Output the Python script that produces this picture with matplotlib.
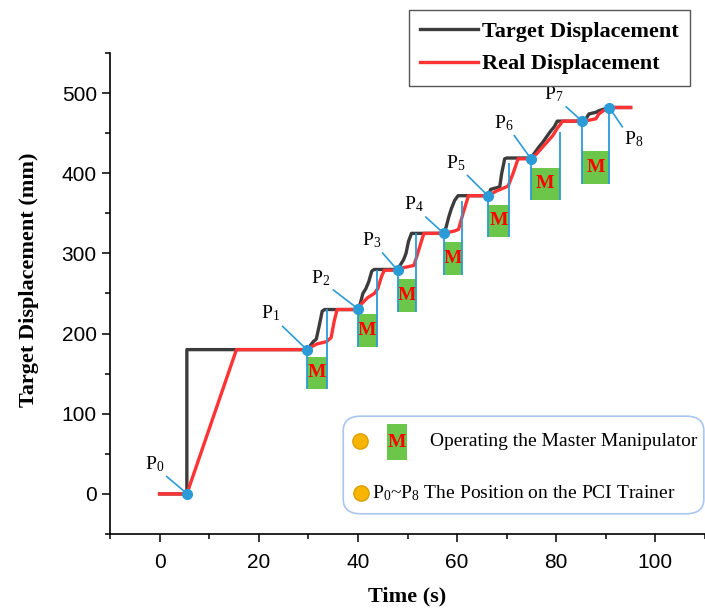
import numpy as np
import matplotlib.pyplot as plt
from matplotlib.patches import Rectangle, FancyBboxPatch
from matplotlib.ticker import MultipleLocator

plt.rcParams['mathtext.default'] = 'regular'

SERIF = 'Liberation Serif'
SANS = 'Liberation Sans'

# target displacement (black)
target_t = [0, 5.5, 5.5, 29.8, 30.4, 31.0, 31.6, 32.2, 32.8, 33.3,
            40.0, 40.5, 41.0, 41.6, 42.2, 42.8, 43.3,
            48.0, 48.6, 49.2, 49.7, 50.2, 50.8,
            57.3, 57.8, 58.3, 58.8, 59.5, 60.2,
            66.2, 66.8, 68.6, 69.0, 69.6, 70.0,
            74.9, 75.6, 76.4, 77.2, 78.0, 78.8, 79.6, 80.2,
            85.2, 86.0, 86.6, 88.0, 88.6, 89.6, 90.7, 95.0]
target_y = [0, 0, 180, 180, 185, 190, 193, 210, 228, 230,
            230, 238, 250, 256, 265, 278, 280,
            280, 286, 292, 300, 315, 325,
            325, 333, 345, 355, 366, 372,
            372, 380, 383, 400, 418, 419,
            419, 425, 432, 438, 445, 452, 458, 465,
            465, 468, 474, 476, 478, 480, 482, 482]

# real displacement (red)
real_t = [0, 5.5, 15.5, 29.7, 30.5, 31.7, 33.7, 34.6, 35.2, 35.8,
          40.0, 40.7, 42.0, 43.3, 44.0, 44.7, 45.3,
          48.0, 49.0, 51.3, 52.3, 53.3,
          57.3, 59.5, 60.3, 61.3, 62.3,
          66.2, 68.0, 70.3, 71.3, 72.3,
          74.9, 76.0, 77.3, 78.3, 79.3, 80.2, 81.3,
          85.0, 86.5, 88.0, 88.6, 89.5, 90.7, 95.0]
real_y = [0, 0, 180, 180, 183, 187, 190, 195, 215, 230,
          230, 237, 245, 250, 256, 270, 279,
          279, 282, 285, 305, 325,
          325, 328, 330, 352, 372,
          372, 378, 384, 400, 418,
          418, 424, 433, 440, 447, 456, 465,
          465, 466, 468, 474, 478, 482, 482]

# positions P0..P8 on the trainer
p_t = [5.6, 29.7, 40.0, 48.0, 57.3, 66.2, 74.9, 85.2, 90.7]
p_y = [0, 180, 231, 279, 325, 372, 418, 465, 482]

# master manipulator phases ("M" boxes)
m_end = [33.8, 43.8, 51.7, 60.9, 70.5, 80.7, 90.7]
m_top = [171, 225, 268, 314, 361, 407, 428]
m_bot = [131, 183, 227, 273, 321, 367, 387]
m_line_top = [231, 279, 325, 366, 413, 452, 482]

# label offsets (pixels) for P labels
lab_dx = [-33, -36, -37, -26, -30, -32, -27, -28, 24]
lab_dy = [30, 36, 31, 30, 29, 33, 36, 27, -32]

blue = '#2b9bd8'
green = '#6cc64a'

fig = plt.figure(figsize=(7.05, 6.1), dpi=100)
ax = fig.add_axes([110 / 705, 76 / 610, 595 / 705, 481 / 610])

l1, = ax.plot(target_t, target_y, color='#3c3c3c', lw=2.4, zorder=2,
              label='Target Displacement')
l2, = ax.plot(real_t, real_y, color='#ff3333', lw=2.4, zorder=2.5,
              label='Real Displacement')

for i in range(7):
    t0 = p_t[i + 1]
    t1 = m_end[i]
    ax.add_patch(Rectangle((t0, m_bot[i]), t1 - t0, m_top[i] - m_bot[i],
                           facecolor=green, edgecolor='none', zorder=1.5))
    ax.text((t0 + t1) / 2, (m_top[i] + m_bot[i]) / 2, 'M', color='red',
            family=SERIF, weight='bold', fontsize=14, ha='center', va='center',
            zorder=3)
    ax.vlines(t0, m_bot[i], p_y[i + 1], color=blue, lw=1.3, zorder=3)
    ax.vlines(t1, m_bot[i], m_line_top[i], color=blue, lw=1.3, zorder=3)

ax.plot(p_t, p_y, 'o', color=blue, ms=7, zorder=4)

for i in range(9):
    rp = (0.1, 0.9) if lab_dx[i] > 0 else (0.85, 0.1)
    ax.annotate('P$_{%d}$' % i, xy=(p_t[i], p_y[i]),
                xytext=(lab_dx[i], lab_dy[i]), textcoords='offset pixels',
                ha='center', va='center', family=SERIF, fontsize=14,
                arrowprops=dict(arrowstyle='-', color=blue, lw=1.2,
                                shrinkA=0, shrinkB=0, relpos=rp),
                zorder=4)

ax.set_xlim(-10, 110)
ax.set_ylim(-50, 550)
ax.xaxis.set_major_locator(MultipleLocator(20))
ax.xaxis.set_minor_locator(MultipleLocator(10))
ax.yaxis.set_major_locator(MultipleLocator(100))
ax.yaxis.set_minor_locator(MultipleLocator(50))
ax.set_xticks([0, 20, 40, 60, 80, 100])
ax.set_yticks([0, 100, 200, 300, 400, 500])
ax.tick_params(which='major', direction='out', length=6, width=1.1,
               labelsize=15)
ax.tick_params(which='minor', direction='out', length=3.5, width=1.1)
ax.tick_params(axis='x', pad=8)
for lab in ax.get_xticklabels() + ax.get_yticklabels():
    lab.set_family(SANS)
for s in ['top', 'right']:
    ax.spines[s].set_visible(False)
for s in ['left', 'bottom']:
    ax.spines[s].set_linewidth(1.2)

ax.set_xlabel('Time (s)', family=SERIF, weight='bold', fontsize=16)
ax.set_ylabel('Target Displacement (mm)', family=SERIF, weight='bold',
              fontsize=16)
ax.xaxis.set_label_coords(0.5, -0.11)
ax.yaxis.set_label_coords(-0.12, 0.528)

fig.legend([l1, l2], ['Target Displacement', 'Real Displacement'],
           loc='upper right', bbox_to_anchor=(690 / 705, 1 - 10 / 610),
           borderaxespad=0, borderpad=0.5, handlelength=2.6,
           handletextpad=0.2, labelspacing=0.55, fancybox=False,
           edgecolor='#555555', framealpha=1,
           prop=dict(family=SERIF, weight='bold', size=16))

# explanation box at lower right
box = FancyBboxPatch((0.392, 0.042), 0.606, 0.203,
                     boxstyle='round,pad=0,rounding_size=0.03',
                     transform=ax.transAxes, facecolor='white',
                     edgecolor='#a9c6ee', lw=1.2, zorder=5, clip_on=False)
ax.add_patch(box)
for yy, xx in [(0.193, 0.42), (0.085, 0.422)]:
    ax.plot([xx], [yy], 'o', ms=11, mfc='#f7b500', mec='#d9a000',
            transform=ax.transAxes, zorder=6, clip_on=False)
ax.add_patch(Rectangle((0.4655, 0.1538), 0.0335, 0.075, transform=ax.transAxes,
                       facecolor=green, edgecolor='none', zorder=6))
ax.text(0.482, 0.191, 'M', color='red', family=SERIF, weight='bold',
        fontsize=14, ha='center', va='center', transform=ax.transAxes,
        zorder=7)
ax.text(0.538, 0.193, 'Operating the Master Manipulator', family=SERIF,
        fontsize=14, ha='left', va='center', transform=ax.transAxes,
        zorder=7)
ax.text(0.440, 0.085, 'P$_0$~P$_8$ The Position on the PCI Trainer',
        family=SERIF, fontsize=14, ha='left', va='center',
        transform=ax.transAxes, zorder=7)

fig.savefig('out.png', dpi=100)
